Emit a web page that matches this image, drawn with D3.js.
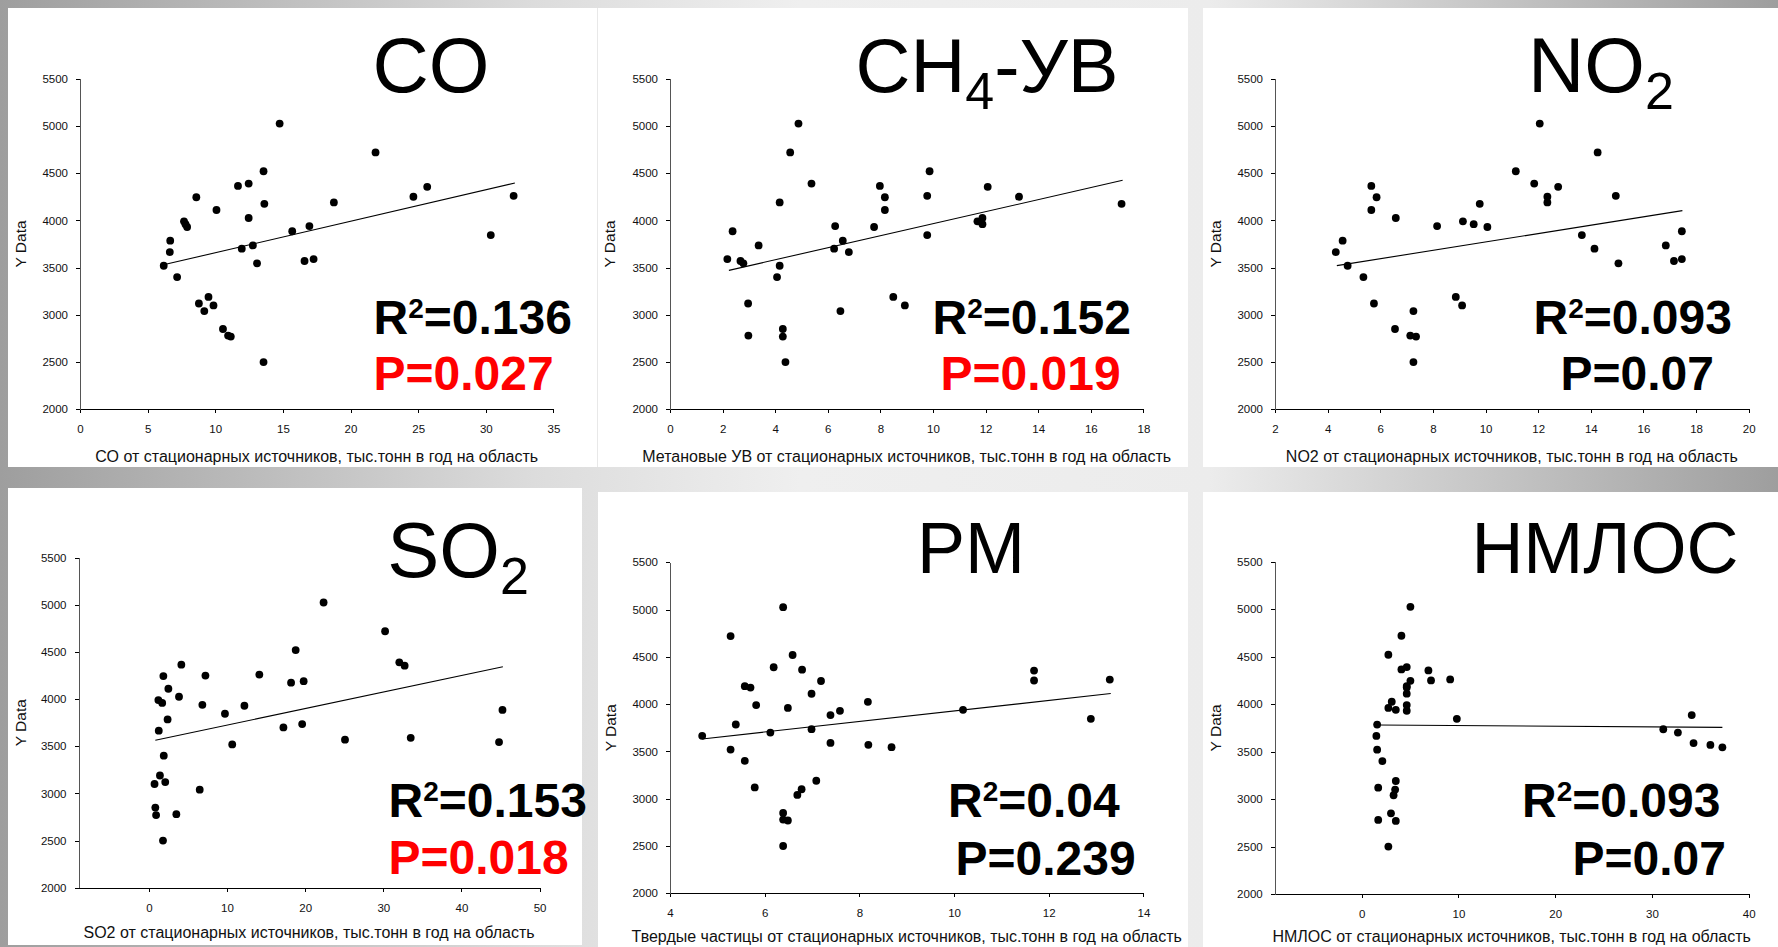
<!DOCTYPE html>
<html>
<head>
<meta charset="utf-8">
<script src="https://cdn.jsdelivr.net/npm/d3@7"></script>
<style>
  html, body { margin: 0; padding: 0; background: #fff; }
  svg { display: block; font-family: "Liberation Sans", Arial, sans-serif; }
</style>
</head>
<body>
<div id="container"></div>
<script>
"use strict";

// SECTION: data (y is shared by all six panels, x per pollutant)
const yData = [5025, 4720, 4520, 4390, 4365, 4355, 4260, 4250, 4245, 4190, 4175, 4110,
               4025, 3990, 3960, 3940, 3930, 3885, 3845, 3785, 3735, 3700, 3665, 3590,
               3570, 3545, 3520, 3400, 3190, 3120, 3100, 3040, 2850, 2780, 2770, 2500];

const xCO = [14.76, 21.85, 13.57, 12.47, 11.68, 25.67, 32.06, 24.65, 8.6, 18.77, 13.63, 10.09,
             12.47, 7.69, 7.8, 16.96, 7.92, 15.69, 30.37, 6.67, 12.78, 11.96, 6.64, 17.27,
             16.6, 13.09, 6.19, 7.18, 9.5, 8.79, 9.87, 9.19, 10.57, 10.95, 11.15, 13.57];
const xCH4 = [4.885, 4.57, 9.87, 5.38, 7.98, 12.08, 9.78, 13.27, 8.17, 4.17, 17.17, 8.17,
              11.88, 11.69, 11.88, 6.28, 7.76, 2.38, 9.78, 6.57, 3.37, 6.24, 6.8, 2.18,
              2.68, 2.79, 4.17, 4.07, 8.49, 2.97, 8.93, 6.48, 4.29, 2.98, 4.29, 4.39];
const xNO2 = [12.06, 14.26, 11.15, 11.85, 5.66, 12.76, 14.95, 12.35, 5.86, 12.35, 9.78, 5.66,
              6.59, 9.14, 9.55, 8.16, 10.07, 17.46, 13.66, 4.57, 16.85, 14.14, 4.31, 17.46,
              17.16, 15.05, 4.76, 5.36, 8.87, 5.76, 9.11, 7.26, 6.56, 7.14, 7.36, 7.26];
const xSO2 = [22.36, 30.23, 18.79, 32.05, 4.16, 32.73, 14.14, 7.24, 1.86, 19.81, 18.2, 2.5,
              3.86, 1.22, 1.71, 6.85, 12.23, 45.25, 9.74, 2.4, 19.62, 17.22, 1.27, 33.51,
              25.1, 44.81, 10.67, 1.91, 1.42, 2.1, 0.73, 6.51, 0.83, 3.52, 0.93, 1.81];
const xPM = [6.39, 5.28, 6.59, 6.19, 6.79, 11.69, 13.29, 11.69, 7.19, 5.58, 5.7, 6.99,
             8.18, 5.82, 6.49, 10.19, 7.59, 7.39, 12.89, 5.39, 6.99, 6.12, 4.68, 7.39,
             8.19, 8.68, 5.28, 5.58, 7.09, 5.79, 6.78, 6.69, 6.39, 6.39, 6.49, 6.39];
const xNMLOS = [5.03, 4.1, 2.75, 4.65, 4.1, 6.89, 9.14, 7.16, 5.03, 4.65, 4.65, 4.65,
                3.1, 4.65, 2.75, 3.52, 4.65, 34.11, 9.83, 1.59, 31.17, 32.68, 1.51, 34.3,
                36.04, 37.28, 1.59, 2.13, 3.52, 1.7, 3.45, 3.29, 3.02, 1.7, 3.52, 2.75];

// regression line end points
const trendCO = [[6.33, 3535], [32.15, 4396]];
const trendCH4 = [[2.24, 3471], [17.21, 4424]];
const trendNO2 = [[4.35, 3521], [17.48, 4103]];
const trendSO2 = [[0.83, 3563], [45.3, 4344]];
const trendPM = [[4.68, 3632], [13.31, 4112]];
const trendNMLOS = [[1.59, 3780], [37.28, 3755]];

const r2Labels = ["0.136", "0.152", "0.093", "0.153", "0.04", "0.093"];
const pLabels = ["0.027", "0.019", "0.07", "0.018", "0.239", "0.07"];
const pSignificant = [true, true, false, true, false, false];

const yTicks = [2000, 2500, 3000, 3500, 4000, 4500, 5000, 5500];

const xAxisLabels = [
  "СО от стационарных источников, тыс.тонн в год на область",
  "Метановые УВ от стационарных источников, тыс.тонн в год на область",
  "NO2 от стационарных источников, тыс.тонн в год на область",
  "SO2 от стационарных источников, тыс.тонн в год на область",
  "Твердые частицы от стационарных источников, тыс.тонн в год на область",
  "НМЛОС от стационарных источников, тыс.тонн в год на область"
];

// SECTION: panel layout
const panels = [
  {xs: xCO, trend: trendCO, xDomain: [0, 35], xTicks: d3.range(0, 36, 5),
   box: [8, 8, 589, 459], xr: [80, 553.4], yr: [409.3, 78.7],
   title: [["CO"]], titleX: 431, titleY: 91.7, titleSize: 78,
   statX: [373.5, 373.5], statY: [334, 390], labelY: 461.5},
  {xs: xCH4, trend: trendCH4, xDomain: [0, 18], xTicks: d3.range(0, 19, 2),
   box: [597, 8, 591, 459], xr: [670, 1143.4], yr: [409.3, 78.7],
   title: [["CH"], ["4", "sub"], ["-УВ"]], titleX: 987, titleY: 91.7, titleSize: 76,
   statX: [932.5, 940.5], statY: [334, 390], labelY: 461.5},
  {xs: xNO2, trend: trendNO2, xDomain: [2, 20], xTicks: d3.range(2, 21, 2),
   box: [1203, 8, 575, 459], xr: [1275, 1748.7], yr: [409.3, 78.7],
   title: [["NO"], ["2", "sub"]], titleX: 1601, titleY: 91.7, titleSize: 78,
   statX: [1533.5, 1560.5], statY: [333.5, 390], labelY: 461.5},
  {xs: xSO2, trend: trendSO2, xDomain: [-9, 50], xTicks: d3.range(0, 51, 10),
   box: [8, 488, 574, 457], xr: [78.5, 539.6], yr: [887.7, 557.7],
   title: [["SO"], ["2", "sub"]], titleX: 458, titleY: 576.7, titleSize: 78,
   statX: [388.5, 388.5], statY: [816.7, 874], labelY: 938},
  {xs: xPM, trend: trendPM, xDomain: [4, 14], xTicks: d3.range(4, 15, 2),
   box: [598, 492, 590, 455], xr: [670, 1143.4], yr: [893.3, 562.3],
   title: [["PM"]], titleX: 971, titleY: 573.3, titleSize: 72,
   statX: [948, 955.5], statY: [817.3, 875], labelY: 942},
  {xs: xNMLOS, trend: trendNMLOS, xDomain: [-9, 40], xTicks: d3.range(0, 41, 10),
   box: [1203, 492, 575, 455], xr: [1274.7, 1748.7], yr: [894, 561.7],
   title: [["НМЛОС"]], titleX: 1605, titleY: 573.3, titleSize: 72,
   statX: [1522, 1572.5], statY: [817.3, 875], labelY: 942}
];

const width = 1778, height = 947;

let svg = d3.select("#container")
    .append("svg")
    .attr("width", width)
    .attr("height", height);

// grey slide background
const grad = svg.append("defs").append("linearGradient")
    .attr("id", "bg")
    .attr("x1", "0%").attr("x2", "100%").attr("y1", "0%").attr("y2", "0%");
[[0, "#9e9e9e"], [0.3, "#dcdcdc"], [0.45, "#efefef"], [0.68, "#ececec"], [1, "#9e9e9e"]]
  .forEach(s => grad.append("stop").attr("offset", s[0]).attr("stop-color", s[1]));

svg.append("rect")
    .attr("width", width)
    .attr("height", height)
    .attr("fill", "url(#bg)");

panels.forEach((p, i) => {
  const g = svg.append("g");

  g.append("rect")
    .attr("x", p.box[0]).attr("y", p.box[1])
    .attr("width", p.box[2]).attr("height", p.box[3])
    .attr("fill", "#fff");

  const x = d3.scaleLinear().domain(p.xDomain).range(p.xr);
  const y = d3.scaleLinear().domain([2000, 5500]).range(p.yr);

  // axes
  const xAxis = g.append("g")
    .attr("transform", `translate(0,${p.yr[0]})`)
    .call(d3.axisBottom(x).tickValues(p.xTicks).tickFormat(d3.format("d"))
      .tickSize(4).tickSizeOuter(0).tickPadding(12));
  const yAxis = g.append("g")
    .attr("transform", `translate(${p.xr[0]},0)`)
    .call(d3.axisLeft(y).tickValues(yTicks).tickFormat(d3.format("d"))
      .tickSize(4).tickSizeOuter(0).tickPadding(8));

  [xAxis, yAxis].forEach(a => {
    a.selectAll("text")
      .style("font-family", "Liberation Sans, Arial, sans-serif")
      .style("font-size", "11.5px")
      .attr("fill", "#111");
    a.selectAll("line").attr("stroke", "#000").attr("shape-rendering", "crispEdges");
  });
  xAxis.select(".domain").attr("stroke", "#000").attr("shape-rendering", "crispEdges");
  yAxis.select(".domain").attr("stroke", "#555").attr("shape-rendering", "crispEdges");

  // axis titles
  g.append("text")
    .attr("x", (p.xr[0] + p.xr[1]) / 2)
    .attr("y", p.labelY)
    .attr("text-anchor", "middle")
    .style("font-size", "16px")
    .attr("fill", "#111")
    .text(xAxisLabels[i]);

  g.append("text")
    .attr("transform", `translate(${p.box[0] + 18},${(p.yr[0] + p.yr[1]) / 2}) rotate(-90)`)
    .attr("text-anchor", "middle")
    .style("font-size", "15.5px")
    .attr("fill", "#111")
    .text("Y Data");

  // trend line
  g.append("line")
    .attr("x1", x(p.trend[0][0])).attr("y1", y(p.trend[0][1]))
    .attr("x2", x(p.trend[1][0])).attr("y2", y(p.trend[1][1]))
    .attr("stroke", "#000")
    .attr("stroke-width", 1.1);

  // points
  g.selectAll("circle")
    .data(yData.map((v, j) => ({x: p.xs[j], y: v})))
    .enter()
    .append("circle")
      .attr("cx", d => x(d.x))
      .attr("cy", d => y(d.y))
      .attr("r", 3.9)
      .attr("fill", "#000");

  // big pollutant title
  const t = g.append("text")
    .attr("x", p.titleX)
    .attr("y", p.titleY)
    .attr("text-anchor", "middle")
    .style("font-size", p.titleSize + "px")
    .attr("fill", "#000");
  let shifted = 0;
  p.title.forEach(part => {
    const sp = t.append("tspan").text(part[0]);
    if (part[1] === "sub") {
      sp.style("font-size", "52px").attr("dy", 17.3);
      shifted = 17.3;
    } else if (shifted) {
      sp.attr("dy", -shifted);
      shifted = 0;
    }
  });

  // statistics
  const r2 = g.append("text")
    .attr("x", p.statX[0])
    .attr("y", p.statY[0])
    .style("font-size", "48px")
    .style("font-weight", "bold")
    .attr("fill", "#000");
  r2.append("tspan").text("R");
  r2.append("tspan").text("2").style("font-size", "28px").attr("dy", -16);
  r2.append("tspan").text("=" + r2Labels[i]).attr("dy", 16);

  g.append("text")
    .attr("x", p.statX[1])
    .attr("y", p.statY[1])
    .style("font-size", "48px")
    .style("font-weight", "bold")
    .attr("fill", pSignificant[i] ? "#ff0000" : "#000")
    .text("P=" + pLabels[i]);
});

// faint seam between the two upper left slides
svg.append("line")
    .attr("x1", 597.5).attr("x2", 597.5)
    .attr("y1", 8).attr("y2", 467)
    .attr("stroke", "#e8e8e8");
</script>
</body>
</html>
